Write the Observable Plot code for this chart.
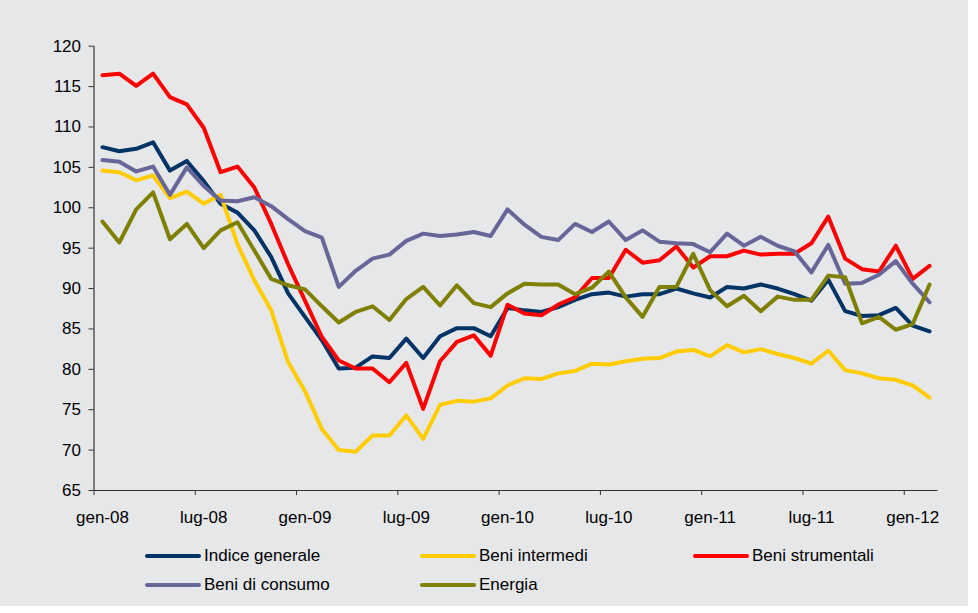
<!DOCTYPE html>
<html><head><meta charset="utf-8">
<script src="https://cdn.jsdelivr.net/npm/d3@7"></script>
<script src="https://cdn.jsdelivr.net/npm/@observablehq/plot@0.6"></script>
<style>
body{margin:0;background:#fff;}
#wrap{position:relative;width:968px;height:606px;background:#e6e7e9;font-family:"Liberation Sans",Arial,sans-serif;overflow:hidden;}
#chart{position:absolute;left:0;top:0;}
.item{position:absolute;display:flex;align-items:center;font-size:17px;color:#000;white-space:nowrap;}
.item svg{margin-right:3px;}
</style></head>
<body><div id="wrap"><div id="chart"></div><div id="legend"></div></div>
<script>
const tickLabels = ["gen-08","lug-08","gen-09","lug-09","gen-10","lug-10","gen-11","lug-11","gen-12"];
const yTicks = [65,70,75,80,85,90,95,100,105,110,115,120];
const seriesNames = ["Indice generale","Beni intermedi","Beni strumentali","Beni di consumo","Energia"];
const seriesColors = ["#003366","#ffcc00","#ff0000","#666699","#808000"];

const indiceGenerale = [107.5,107.0,107.3,108.1,104.6,105.8,103.3,100.5,99.4,97.2,93.9,89.4,86.5,83.6,80.1,80.2,81.6,81.4,83.8,81.4,84.1,85.1,85.1,84.1,87.6,87.3,87.1,87.7,88.6,89.3,89.5,89.0,89.3,89.3,90.0,89.4,88.9,90.2,90.0,90.5,90.0,89.3,88.5,91.1,87.2,86.6,86.7,87.6,85.4,84.7];
const beniIntermedi = [104.6,104.4,103.4,104.0,101.2,102.0,100.5,101.6,95.5,91.0,87.3,80.9,77.3,72.6,70.0,69.8,71.8,71.8,74.3,71.4,75.6,76.1,76.0,76.4,78.0,78.9,78.8,79.5,79.8,80.7,80.6,81.0,81.3,81.4,82.2,82.4,81.6,83.0,82.1,82.5,81.9,81.4,80.7,82.3,79.9,79.5,78.9,78.7,78.0,76.5];
const beniStrumentali = [116.4,116.6,115.1,116.6,113.7,112.8,109.9,104.4,105.1,102.5,98.0,93.0,88.5,84.0,81.1,80.1,80.1,78.4,80.8,75.1,81.0,83.4,84.2,81.7,88.0,86.9,86.7,88.0,88.9,91.3,91.3,94.8,93.2,93.5,95.2,92.6,94.0,94.0,94.7,94.2,94.3,94.3,95.6,98.9,93.7,92.4,92.1,95.3,91.2,92.8];
const beniConsumo = [105.9,105.7,104.5,105.1,101.6,105.0,102.7,100.9,100.8,101.3,100.2,98.6,97.1,96.3,90.2,92.2,93.7,94.2,95.9,96.8,96.5,96.7,97.0,96.5,99.8,97.9,96.4,96.0,98.0,97.0,98.3,96.0,97.2,95.8,95.6,95.5,94.5,96.8,95.3,96.4,95.3,94.6,92.0,95.4,90.6,90.7,91.7,93.4,90.6,88.3];
const energia = [98.3,95.7,99.8,101.9,96.1,98.0,95.0,97.2,98.2,94.7,91.2,90.4,89.9,87.8,85.8,87.1,87.8,86.1,88.7,90.2,87.9,90.4,88.2,87.7,89.4,90.6,90.5,90.5,89.3,90.1,92.1,88.9,86.5,90.2,90.2,94.3,89.8,87.8,89.1,87.2,89.0,88.6,88.6,91.6,91.4,85.7,86.5,84.9,85.6,90.5];

const allSeries = [indiceGenerale, beniIntermedi, beniStrumentali, beniConsumo, energia];
const data = [];
allSeries.forEach((arr, s) => arr.forEach((v, i) => data.push({series: seriesNames[s], i: i + 0.5, v})));
const nCat = indiceGenerale.length;

const chart = Plot.plot({
  width: 968, height: 535,
  marginLeft: 93.5, marginRight: 968 - 937.5, marginTop: 45.7, marginBottom: 45,
  style: {background: "transparent", fontFamily: "'Liberation Sans', Arial, sans-serif", fontSize: "17px", color: "#000", overflow: "visible"},
  x: {domain: [0, nCat], axis: null},
  y: {domain: [65, 120], axis: null},
  color: {domain: seriesNames, range: seriesColors},
  marks: [
    Plot.axisY({ticks: yTicks, tickSize: 5, tickPadding: 8, stroke: "#333", strokeOpacity: 1, label: null, fontSize: 17, fill: "#000"}),
    Plot.axisX({ticks: d3.range(0, nCat, 6), tickSize: 5, tickFormat: () => "", stroke: "#333", strokeOpacity: 1, label: null}),
    Plot.axisX({ticks: d3.range(0, nCat, 6).map(d => d + 0.5), tickSize: 0, tickPadding: 20, tickFormat: (d, i) => tickLabels[i], label: null, fontSize: 17, fill: "#000"}),
    Plot.ruleX([0], {stroke: "#333", strokeWidth: 1.2}),
    Plot.ruleY([65], {stroke: "#333", strokeWidth: 1.2}),
    Plot.line(data, {x: "i", y: "v", z: "series", stroke: "series", strokeWidth: 4, strokeLinejoin: "round", strokeLinecap: "round"})
  ]
});
document.getElementById("chart").appendChild(chart);

const legendPos = [[145, 556], [420, 556], [693, 556], [145, 585], [420, 585]];
const legend = document.getElementById("legend");
seriesNames.forEach((name, k) => {
  const d = document.createElement("div");
  d.className = "item";
  d.style.left = legendPos[k][0] + "px";
  d.style.top = (legendPos[k][1] - 11) + "px";
  d.style.height = "22px";
  d.innerHTML = `<svg width="56" height="8"><line x1="2" y1="4" x2="54" y2="4" stroke="${seriesColors[k]}" stroke-width="4" stroke-linecap="round"/></svg><span>${name}</span>`;
  legend.appendChild(d);
});
</script>
</body></html>
